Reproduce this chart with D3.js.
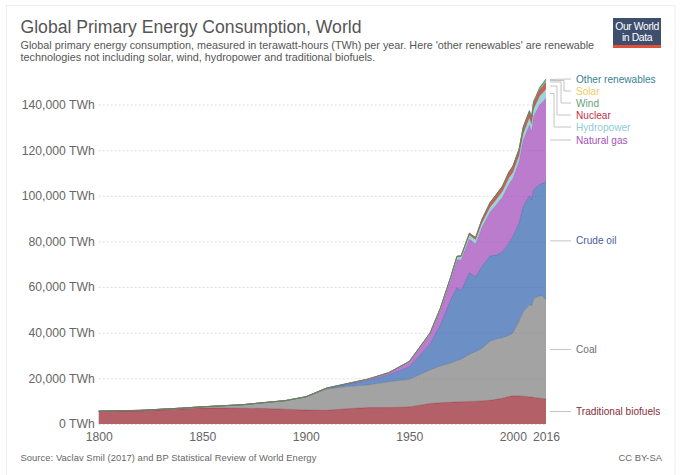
<!DOCTYPE html>
<html>
<head>
<meta charset="utf-8">
<script src="https://cdn.jsdelivr.net/npm/d3@7"></script>
<style>
  html, body { margin: 0; padding: 0; background: #fff; }
  svg { display: block; font-family: "Liberation Sans", Arial, sans-serif; }
</style>
</head>
<body>
<svg id="chart" width="680" height="475"></svg>
<script>
const years = [1800,1820,1840,1850,1860,1870,1880,1890,1900,1910,1920,1930,1940,1950,1960,1965,1970,1973,1975,1979,1982,1985,1989,1992,1995,1998,2000,2003,2005,2008,2009,2010,2011,2013,2014,2016]

const biofuels = [5556,5800,6600,7000,7000,6900,6800,6500,6100,6000,6700,7200,7200,7500,9000,9300,9500,9700,9750,9900,10000,10100,10400,10800,11300,12000,12400,12300,12200,11900,11800,11700,11500,11300,11200,10950]
const coal = [97,180,350,550,1000,1600,2600,3700,5700,9300,9700,9900,11300,12100,14700,16100,17200,18100,18650,20600,21700,23000,25900,26400,26500,26800,27500,32700,37000,40300,40000,42700,44000,44800,45000,43450]
const oil = [0,0,0,0,0,0,0,30,100,300,1000,1900,3000,5400,11300,18100,27700,31900,30100,35800,32700,35900,37400,36800,37700,40200,42200,43000,46100,47800,46500,48200,48000,48900,49100,51700]
const gas = [0,0,0,0,0,0,0,0,30,100,250,550,800,2100,4200,6300,8800,12300,13400,14800,14500,17000,19200,22100,24000,26000,25500,27000,29000,31000,29800,32000,33000,35000,35500,36700]
const hydro = [0,0,0,0,0,0,0,0,20,30,60,130,190,330,690,920,1200,1300,1400,1700,1800,2000,2100,2300,2500,2700,2650,2700,2900,3200,3200,3400,3500,3800,3900,4000]
const nuclear = [0,0,0,0,0,0,0,0,0,0,0,0,0,0,0,70,100,200,400,800,1000,1500,2000,2100,2200,2500,2600,2600,2700,2650,2550,2650,2500,2500,2550,2600]
const wind = [0,0,0,0,0,0,0,0,0,0,0,0,0,0,0,0,0,0,0,0,0,0,0,0,0,0,30,70,100,220,270,340,430,630,710,960]
const solar = [0,0,0,0,0,0,0,0,0,0,0,0,0,0,0,0,0,0,0,0,0,0,0,0,0,0,0,5,8,30,40,60,100,230,270,333]
const other = [0,0,0,0,0,0,0,0,0,0,0,0,0,0,0,0,0,0,0,0,0,50,100,120,130,140,150,200,250,320,330,380,400,480,510,560]

const seriesNames = ["Traditional biofuels","Coal","Crude oil","Natural gas","Hydropower","Nuclear","Wind","Solar","Other renewables"]
const seriesValues = [biofuels, coal, oil, gas, hydro, nuclear, wind, solar, other]
const areaColors = ["#941c2a","#7c7c7c","#2e5fac","#9f45b8","#6fc5c7","#b61b11","#488e5f","#f0b11c","#0a6f8f"]
const labelColors = ["#883039","#6d6e71","#4c5c9e","#a652ba","#8fcdd2","#c1313f","#6a9f7c","#f5c85f","#3b7f95"]

const yTicks = [0,20000,40000,60000,80000,100000,120000,140000]
const xTicks = [1800,1850,1900,1950,2000,2016]

const svg = d3.select("#chart")

// carte
svg.append("rect").attr("x", 6.5).attr("y", 5.5).attr("width", 668.5).attr("height", 475)
    .attr("fill", "#fff").attr("stroke", "#eeeeee")

const x = d3.scaleLinear().domain([1800, 2016]).range([98.7, 546])
const y = d3.scaleLinear().domain([0, 140000]).range([424, 104.5])

const table = years.map((yr, i) => {
    const row = {year: yr}
    seriesNames.forEach((n, j) => { row[n] = seriesValues[j][i] })
    return row
})
const stacked = d3.stack().keys(seriesNames)(table)

// titre
svg.append("text").attr("x", 20.5).attr("y", 33).attr("font-size", 17.6).attr("fill", "#555").text("Global Primary Energy Consumption, World")
const subtitle = [
    "Global primary energy consumption, measured in terawatt-hours (TWh) per year. Here 'other renewables' are renewable",
    "technologies not including solar, wind, hydropower and traditional biofuels."
]
svg.selectAll(".sub").data(subtitle).enter().append("text")
    .attr("class", "sub").attr("x", 20.5).attr("y", (d, i) => 49 + i * 11.5)
    .attr("font-size", 10.8).attr("fill", "#555").text(d => d)

// logo
const logo = svg.append("g")
logo.append("rect").attr("x", 613).attr("y", 18).attr("width", 48).attr("height", 30).attr("fill", "#3d4e6e")
logo.append("rect").attr("x", 613).attr("y", 45).attr("width", 48).attr("height", 3).attr("fill", "#e0503a")
logo.selectAll("text").data(["Our World", "in Data"]).enter().append("text")
    .attr("x", 637).attr("y", (d, i) => 30 + i * 11)
    .attr("text-anchor", "middle").attr("font-size", 10.4).attr("letter-spacing", -0.4)
    .attr("fill", "#fff").text(d => d)

// axes
const yAxis = svg.append("g").attr("transform", "translate(98.7,0)")
    .call(d3.axisLeft(y).tickValues(yTicks).tickSize(-447.3).tickPadding(4).tickFormat(d => d3.format(",")(d) + " TWh"))
yAxis.select(".domain").remove()
yAxis.selectAll("line").attr("stroke", "#dddddd").attr("stroke-dasharray", "2,2")
yAxis.selectAll("text").attr("font-size", 12.2).attr("fill", "#666").attr("font-family", "Liberation Sans")

const xAxis = svg.append("g").attr("transform", "translate(0,424)")
    .call(d3.axisBottom(x).tickValues(xTicks).tickSize(0).tickPadding(8).tickFormat(d3.format("d")))
xAxis.select(".domain").remove()
xAxis.selectAll("text").attr("font-size", 12.2).attr("fill", "#666").attr("font-family", "Liberation Sans")

// aires empilées
const area = d3.area().x((d, i) => x(years[i])).y0(d => y(d[0])).y1(d => y(d[1]))
const topLine = d3.line().x((d, i) => x(years[i])).y(d => y(d[1]))

const layers = svg.selectAll(".layer").data(stacked).enter().append("g").attr("class", "layer")
layers.append("path").attr("d", area).attr("fill", (d, i) => areaColors[i]).attr("fill-opacity", 0.7)
layers.append("path").attr("d", topLine).attr("fill", "none")
    .attr("stroke", (d, i) => areaColors[i]).attr("stroke-width", 0.6).attr("stroke-opacity", 0.8)

// étiquettes à droite : les cinq du haut sont décalées, avec un coude
const last = years.length - 1
const spreadOrder = ["Other renewables","Solar","Wind","Nuclear","Hydropower"]
const elbowX = {"Solar": 564, "Wind": 561, "Nuclear": 557, "Hydropower": 554}

stacked.forEach((s, i) => {
    const midY = y((s[last][0] + s[last][1]) / 2)
    const k = spreadOrder.indexOf(s.key)
    const labelY = k >= 0 ? 79 + k * 12 : midY
    const elbow = elbowX[s.key]
    const pts = elbow
        ? [[550, midY], [elbow, midY], [elbow, labelY], [571, labelY]]
        : [[550, midY], [571, labelY]]
    svg.append("path").attr("d", d3.line()(pts)).attr("fill", "none")
        .attr("stroke", "#c4c4c4").attr("stroke-width", 1)
    svg.append("text").attr("x", 576).attr("y", labelY).attr("dy", "0.35em")
        .attr("font-size", 10.1).attr("fill", labelColors[i]).text(s.key)
})

// pied
svg.append("text").attr("x", 20.5).attr("y", 461).attr("font-size", 9.4).attr("letter-spacing", 0.06).attr("fill", "#666")
    .text("Source: Vaclav Smil (2017) and BP Statistical Review of World Energy")
svg.append("text").attr("x", 662).attr("y", 461).attr("text-anchor", "end").attr("font-size", 9.4).attr("fill", "#666").text("CC BY-SA")
</script>
</body>
</html>
